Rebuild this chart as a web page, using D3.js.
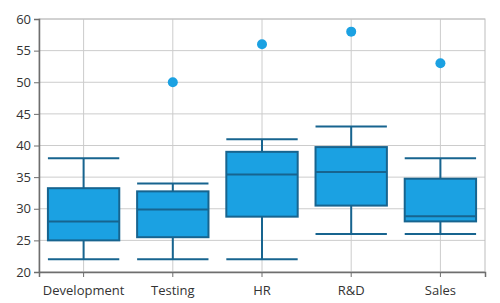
<!DOCTYPE html>
<html>
<head>
<meta charset="utf-8">
<script src="https://cdn.jsdelivr.net/npm/d3@7"></script>
<style>
  body { margin: 0; background: #fff; }
  text { font-family: "Open Sans", "Noto Sans", sans-serif; }
</style>
</head>
<body>
<script>
var departments = ["Development", "Testing", "HR", "R&D", "Sales"];
var whiskerLow  = [22, 22, 22, 26, 26];
var quartile1   = [25, 25.5, 28.75, 30.5, 28];
var medians     = [28, 29.9, 35.4, 35.8, 28.8];
var quartile3   = [33.25, 32.75, 39, 39.75, 34.75];
var whiskerHigh = [38, 34, 41, 43, 38];
var outliers    = [[], [50], [56], [58], [53]];
var yTicks      = [20, 25, 30, 35, 40, 45, 50, 55, 60];

var margin = {top: 19, right: 15, bottom: 31, left: 39};
var width = 500 - margin.left - margin.right;
var height = 303 - margin.top - margin.bottom;

var svg = d3.select("body").append("svg")
    .attr("width", 500)
    .attr("height", 303)
  .append("g")
    .attr("transform", "translate(" + margin.left + "," + margin.top + ")");

var x = d3.scaleBand()
    .domain(departments)
    .range([0, width])
    .padding(0);

var y = d3.scaleLinear()
    .domain([20, 60])
    .range([height, 0]);

// gridlines
svg.append("g")
    .selectAll("line.h")
    .data(yTicks)
    .join("line")
    .attr("x1", 0).attr("x2", width)
    .attr("y1", function(d) { return y(d); })
    .attr("y2", function(d) { return y(d); })
    .attr("stroke", "#cccccc");

svg.append("g")
    .selectAll("line.v")
    .data(departments)
    .join("line")
    .attr("x1", function(d) { return x(d) + x.bandwidth() / 2; })
    .attr("x2", function(d) { return x(d) + x.bandwidth() / 2; })
    .attr("y1", 0).attr("y2", height)
    .attr("stroke", "#cccccc");

// outer border (top/right)
svg.append("rect")
    .attr("x", 0).attr("y", 0)
    .attr("width", width).attr("height", height)
    .attr("fill", "none")
    .attr("stroke", "#bdbdbd");

var boxW = x.bandwidth() * 0.8;
var stroke = "#17648f";
var fill = "#1ba1e2";

var boxes = svg.append("g")
    .selectAll("g")
    .data(departments)
    .join("g")
    .attr("transform", function(d) { return "translate(" + (x(d) + x.bandwidth() / 2) + ",0)"; });

boxes.append("line")
    .attr("x1", 0).attr("x2", 0)
    .attr("y1", function(d, i) { return y(whiskerLow[i]); })
    .attr("y2", function(d, i) { return y(whiskerHigh[i]); })
    .attr("stroke", stroke).attr("stroke-width", 2);

boxes.selectAll("line.cap")
    .data(function(d, i) { return [whiskerLow[i], whiskerHigh[i]]; })
    .join("line")
    .attr("class", "cap")
    .attr("x1", -boxW / 2).attr("x2", boxW / 2)
    .attr("y1", function(v) { return y(v); })
    .attr("y2", function(v) { return y(v); })
    .attr("stroke", stroke).attr("stroke-width", 2);

boxes.append("rect")
    .attr("x", -boxW / 2)
    .attr("width", boxW)
    .attr("y", function(d, i) { return y(quartile3[i]); })
    .attr("height", function(d, i) { return y(quartile1[i]) - y(quartile3[i]); })
    .attr("fill", fill)
    .attr("stroke", stroke).attr("stroke-width", 2);

boxes.append("line")
    .attr("x1", -boxW / 2).attr("x2", boxW / 2)
    .attr("y1", function(d, i) { return y(medians[i]); })
    .attr("y2", function(d, i) { return y(medians[i]); })
    .attr("stroke", stroke).attr("stroke-width", 2);

boxes.selectAll("circle")
    .data(function(d, i) { return outliers[i]; })
    .join("circle")
    .attr("cx", 0)
    .attr("cy", function(v) { return y(v); })
    .attr("r", 5)
    .attr("fill", fill);

// axes
var yAxis = svg.append("g")
    .call(d3.axisLeft(y).tickValues(yTicks).tickSize(5).tickPadding(3));
var xAxis = svg.append("g")
    .attr("transform", "translate(0," + height + ")")
    .call(d3.axisBottom(x).tickSize(5).tickPadding(9));

[xAxis, yAxis].forEach(function(a) {
  a.select(".domain").attr("stroke", "#6e6e6e").attr("stroke-width", 1.5);
  a.selectAll(".tick line").attr("stroke", "#6e6e6e");
  a.selectAll(".tick text")
    .attr("fill", "#333")
    .style("font-size", "13px")
    .style("font-family", "'Open Sans', 'Noto Sans', sans-serif");
});
</script>
</body>
</html>
